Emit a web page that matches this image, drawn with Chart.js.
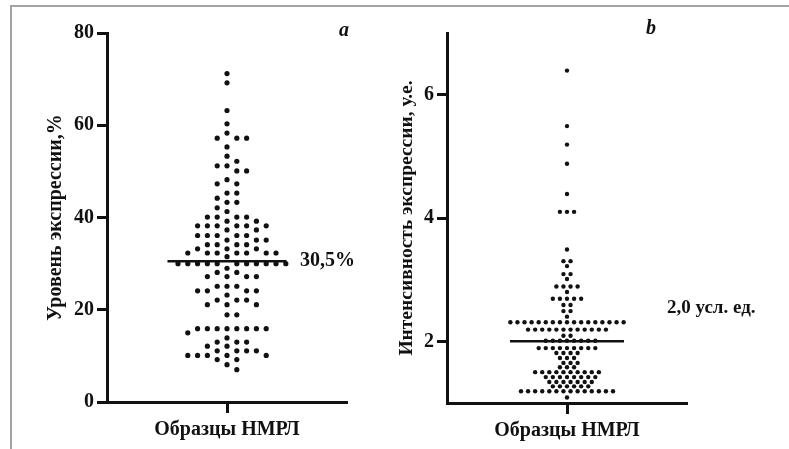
<!DOCTYPE html>
<html><head><meta charset="utf-8">
<script src="https://cdn.jsdelivr.net/npm/chart.js@4/dist/chart.umd.min.js"></script>
<style>
html,body{margin:0;padding:0;background:#fff;width:789px;height:449px;overflow:hidden;}
#frame{position:absolute;left:10px;top:5px;width:779px;height:444px;border-top:2px solid #a3a3a3;border-left:2px solid #a3a3a3;box-sizing:border-box;}
#wa{position:absolute;left:0;top:0;width:390px;height:449px;}
#wb{position:absolute;left:385px;top:0;width:404px;height:449px;}
</style></head><body>
<div id="frame"></div>
<div id="wa"><canvas id="ca"></canvas></div>
<div id="wb"><canvas id="cb"></canvas></div>
<script>
// ---- data ----
const categoryLabel = 'Образцы НМРЛ';
const panelLabels = ['a', 'b'];
const yTitleA = 'Уровень экспрессии,%';
const yTitleB = 'Интенсивность экспрессии, у.е.';
const yTicksA = [0, 20, 40, 60, 80];
const yTicksB = [2, 4, 6];
const medianA = 30.5;
const medianLabelA = '30,5%';
const medianB = 2.0;
const medianLabelB = '2,0 усл. ед.';

const valuesA = [
  71.2, 69.2, 63.2, 60.3, 58.3,
  57.2, 57.2, 57.2,
  55.3, 53.3, 52.2,
  51.2, 51.2,
  50.1, 50.1,
  48.2,
  47.3, 47.3,
  45.3, 45.3,
  44.2,
  43.3, 43.3,
  42.1, 41.3,
  40.1, 40.1, 40.1, 40.1,
  39.2, 39.2,
  38.2, 38.2, 38.2, 38.2, 38.2, 38.2,
  37.3, 37.3,
  36.1, 36.1, 36.1, 36.1, 36.1,
  35.1, 35.1, 35.1,
  34.1, 34.1, 34.1, 34.1,
  33.2, 33.2, 33.2,
  32.3, 32.3, 32.3, 32.3, 32.3, 32.3, 32.3,
  31.5,
  30.0, 30.0, 30.0, 30.0, 30.0, 30.0, 30.0, 30.0, 30.0, 30.0, 30.0,
  29.0,
  28.1, 28.1,
  27.2, 27.2, 27.2, 27.2,
  25.1, 25.1, 25.1,
  24.1, 24.1, 24.1, 24.1,
  23.2,
  22.1, 22.1, 22.1,
  21.1, 21.1, 21.1,
  18.9, 18.9,
  15.9, 15.9, 15.9, 15.9, 15.9, 15.9, 15.9, 15.9,
  15.0, 13.9,
  13.0, 13.0, 13.0,
  12.1, 12.1,
  11.1, 11.1, 11.1, 11.1,
  10.1, 10.1, 10.1, 10.1, 10.1,
  9.2, 9.2,
  8.1, 7.0
];

const valuesB = [
  6.39, 5.49, 5.19, 4.88, 4.39,
  4.10, 4.10, 4.10,
  3.49,
  3.30, 3.30,
  3.22,
  3.09, 3.09,
  3.01,
  2.89, 2.89, 2.89, 2.89,
  2.80,
  2.69, 2.69, 2.69, 2.69, 2.69,
  2.59, 2.59,
  2.49, 2.49,
  2.40,
  2.31, 2.31, 2.31, 2.31, 2.31, 2.31, 2.31, 2.31, 2.31, 2.31, 2.31, 2.31, 2.31, 2.31, 2.31, 2.31, 2.31,
  2.19, 2.19, 2.19, 2.19, 2.19, 2.19, 2.19, 2.19, 2.19, 2.19, 2.19, 2.19,
  2.09, 2.09,
  2.01, 2.01, 2.01, 2.01, 2.01, 2.01, 2.01, 2.01,
  1.89, 1.89, 1.89, 1.89, 1.89, 1.89, 1.89, 1.89, 1.89,
  1.81, 1.81, 1.81, 1.81,
  1.73, 1.73, 1.73,
  1.65, 1.65, 1.65,
  1.58, 1.58, 1.58,
  1.50, 1.50, 1.50, 1.50, 1.50, 1.50, 1.50, 1.50, 1.50, 1.50,
  1.42, 1.42, 1.42, 1.42, 1.42, 1.42, 1.42, 1.42,
  1.34, 1.34, 1.34, 1.34, 1.34, 1.34, 1.34,
  1.27, 1.27, 1.27, 1.27, 1.27, 1.27,
  1.19, 1.19, 1.19, 1.19, 1.19, 1.19, 1.19, 1.19, 1.19, 1.19, 1.19, 1.19, 1.19, 1.19,
  1.09
];

// ---- beeswarm layouts: x slot is computed from the values ----
// per-point: each value takes the nearest free column slot
function swarmSlots(values, pxPerValue, slotPx, minD) {
  const sorted = [...values].sort((a, b) => b - a);
  const placed = [];
  sorted.forEach(v => {
    for (let k = 0; k < 60; k++) {
      const o = (k % 2 === 1) ? (k + 1) / 2 : -k / 2;
      const ok = placed.every(p => Math.hypot((p.x - o) * slotPx, (p.y - v) * pxPerValue) >= minD);
      if (ok) { placed.push({ x: o, y: v }); return; }
    }
  });
  return placed;
}
// per-row: equal values form a centred row
function swarmRows(values, pxPerValue, slotPx, minD) {
  const sorted = [...values].sort((a, b) => b - a);
  const groups = [];
  sorted.forEach(v => {
    const g = groups[groups.length - 1];
    if (g && g.v === v) g.n++; else groups.push({ v, n: 1 });
  });
  const placed = [];
  const shifts = [0, 0.5, -0.5, 1, -1, 1.5, -1.5, 2, -2];
  groups.forEach(g => {
    const base = [];
    for (let i = 0; i < g.n; i++) base.push(i - (g.n - 1) / 2);
    let chosen = base;
    for (const s of shifts) {
      const cand = base.map(o => o + s);
      const ok = cand.every(o => placed.every(p =>
        Math.hypot((p.x - o) * slotPx, (p.y - g.v) * pxPerValue) >= minD));
      if (ok) { chosen = cand; break; }
    }
    chosen.forEach(o => placed.push({ x: o, y: g.v }));
  });
  return placed;
}

const serif = '"Liberation Serif", "Times New Roman", serif';
const ink = '#111';

const annot = {
  id: 'annot',
  afterDraw(chart, args, o) {
    const ctx = chart.ctx, y = chart.scales.y;
    ctx.save();
    ctx.fillStyle = ink;
    ctx.textBaseline = 'middle';
    ctx.font = 'italic bold 20px ' + serif;
    ctx.textAlign = 'center';
    ctx.fillText(o.panel, o.panelX, o.panelY);
    ctx.font = 'bold ' + o.medSize + 'px ' + serif;
    ctx.textAlign = 'left';
    ctx.fillText(o.medText, o.medX, y.getPixelForValue(o.median) + o.medDy);
    ctx.restore();
  }
};

function makeChart(id, c) {
  const font = { family: serif, weight: 'bold', size: 20 };
  return new Chart(document.getElementById(id), {
    type: 'scatter',
    data: {
      datasets: [
        { data: c.points, order: 1,
          pointRadius: c.r, pointHoverRadius: c.r, pointBackgroundColor: ink,
          pointBorderColor: ink, pointBorderWidth: 0 },
        { type: 'line', order: 0, showLine: true,
          data: [{ x: -c.half, y: c.median }, { x: c.half, y: c.median }],
          borderColor: ink, borderWidth: 2.5, pointRadius: 0, fill: false }
      ]
    },
    options: {
      responsive: true, maintainAspectRatio: false, animation: false,
      devicePixelRatio: 1,
      layout: { padding: { left: c.padL, right: c.padR, top: 33, bottom: c.padB } },
      plugins: {
        legend: { display: false }, tooltip: { enabled: false },
        annot: c.annot
      },
      scales: {
        x: {
          type: 'linear', min: -c.xr, max: c.xr,
          afterBuildTicks: s => { s.ticks = [{ value: 0 }]; },
          ticks: { callback: () => categoryLabel, font, color: ink, padding: 5, maxRotation: 0 },
          grid: { drawOnChartArea: false, tickLength: 11, tickWidth: 3, tickColor: ink },
          border: { color: ink, width: 3 },
          afterFit: s => { s.height = 45; }
        },
        y: {
          type: 'linear', min: c.ymin, max: c.ymax,
          afterBuildTicks: s => { s.ticks = c.yTicks.map(v => ({ value: v })); },
          ticks: { font, color: ink, padding: 3 },
          grid: { drawOnChartArea: false, tickLength: 10, tickWidth: 3, tickColor: ink },
          border: { color: ink, width: 3 },
          title: { display: true, text: c.yTitle, font: { family: serif, weight: 'bold', size: c.titleSize },
                   color: ink, padding: { top: 4, bottom: 4 } },
          afterFit: s => { s.width = c.yW; }
        }
      }
    },
    plugins: [annot]
  });
}

makeChart('ca', {
  points: swarmSlots(valuesA, 369 / 80, 9.8, 7.2), r: 2.6,
  median: medianA, half: 6.07, xr: 12.24,
  ymin: 0, ymax: 80, yTicks: yTicksA, yTitle: yTitleA, titleSize: 20,
  padL: 40, padR: 43, padB: 2, yW: 67,
  annot: { panel: panelLabels[0], panelX: 344, panelY: 31, medText: medianLabelA,
           median: medianA, medX: 300, medDy: 0, medSize: 20 }
});

makeChart('cb', {
  points: swarmRows(valuesB, 61.67, 7.08, 5), r: 2.2,
  median: medianB, half: 8.05, xr: 16.95,
  ymin: 1, ymax: 7, yTicks: yTicksB, yTitle: yTitleB, titleSize: 19.5,
  padL: 6, padR: 102, padB: 1, yW: 56,
  annot: { panel: panelLabels[1], panelX: 266, panelY: 29, medText: medianLabelB,
           median: medianB, medX: 282, medDy: -33, medSize: 19 }
});
</script>
</body></html>
